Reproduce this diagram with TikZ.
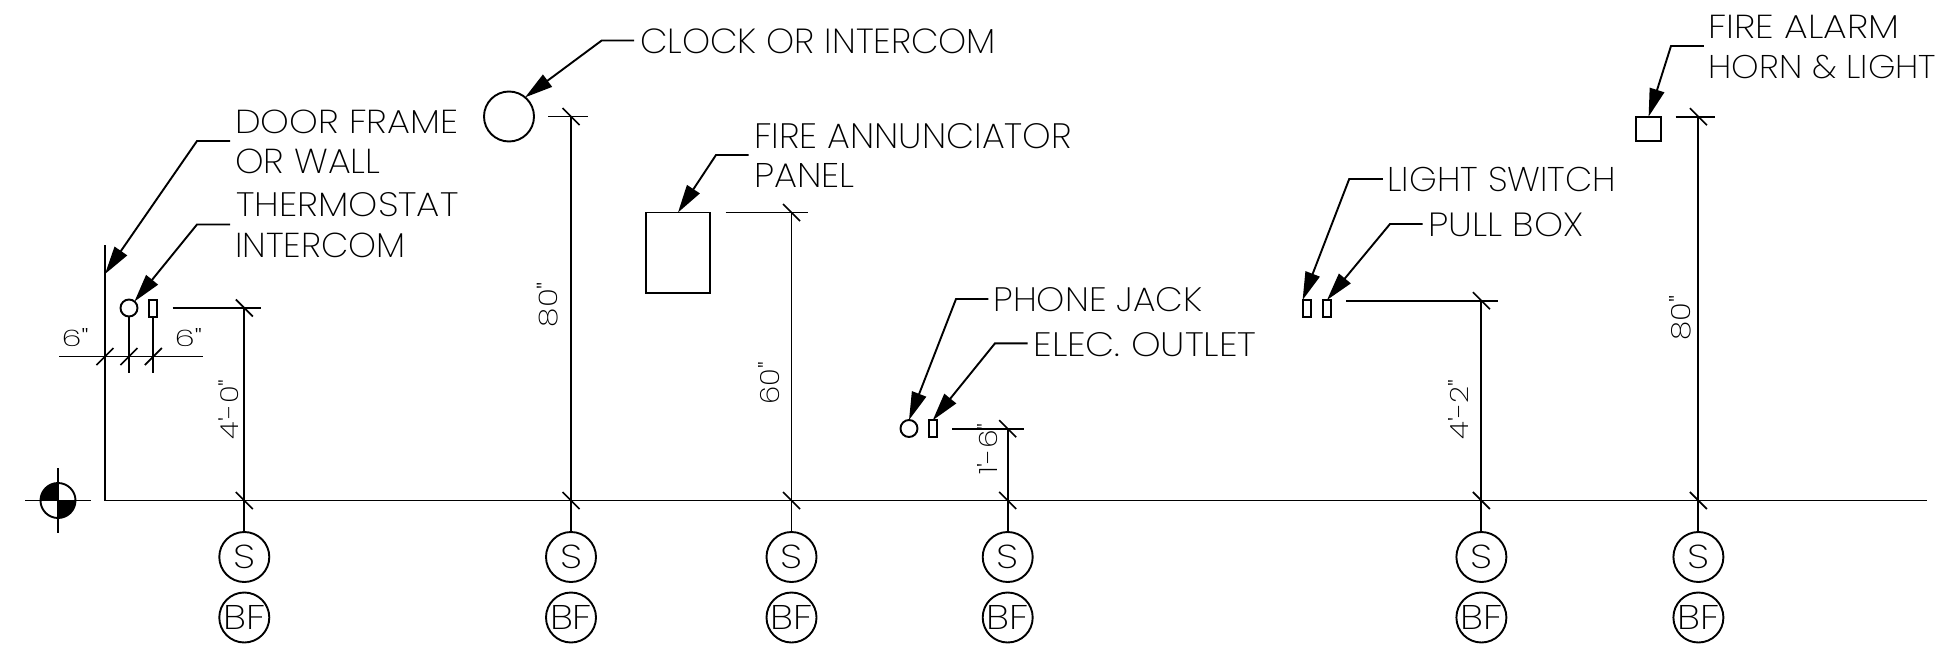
\documentclass[tikz,border=0pt]{standalone}
\usepackage{fontspec}
\usepackage{graphicx}
\newfontfamily\cadfont{Poppins ExtraLight}
\usetikzlibrary{arrows.meta,calc}
\tikzset{
  wire/.style={line width=1.9pt},
  leader/.style={wire,-{Triangle[length=28pt,width=15pt]}},
  tickline/.style={line width=1.7pt},
  caption/.style={inner sep=0pt,outer sep=0pt,anchor=base west,xshift=-1.5pt},
  dimtext/.style={inner sep=0pt,outer sep=0pt,rotate=90,anchor=center},
  devicebox/.style={draw,wire,inner sep=0pt,outer sep=0pt,minimum width=#1},
  devicebox/.default=8pt,
  ring/.style={draw,wire,circle,inner sep=0pt,outer sep=0pt,minimum size=#1},
  bubble/.style={ring=50pt}
}
\newcommand{\lbl}[6]{\pgfmathsetlengthmacro\lblw{#4+3}\node[caption] (#1) at (#2,#3) {\resizebox{\lblw}{#5pt}{\cadfont #6}};}
\newcommand{\dimlbl}[6]{\node[dimtext] (#1) at (#2,#3) {\resizebox{#4pt}{#5pt}{\cadfont #6}};}
% name x top extleft extright : dimension column with S and BF bubbles
\newcommand{\dimcol}[5]{%
  \coordinate (top#1) at (#2,#3);
  \coordinate (gnd#1) at (#2,500.5);
  \coordinate (extL#1) at (#4,#3);
  \coordinate (extR#1) at (#5,#3);
  \node[bubble] (S#1) at (#2,557) {\resizebox{22pt}{23.5pt}{\cadfont S}};
  \node[bubble] (BF#1) at (#2,617.5) {\resizebox{42pt}{24pt}{\cadfont BF}};
  \draw[wire] (extL#1) -- (extR#1);
  \draw[wire] (top#1) -- (S#1.north);
  \draw[tickline] ([shift={(-8.5,-8.5)}]top#1) -- ([shift={(8.5,8.5)}]top#1);
  \draw[tickline] ([shift={(-8.5,-8.5)}]gnd#1) -- ([shift={(8.5,8.5)}]gnd#1);
}
\begin{document}
\begin{tikzpicture}[x=1pt,y=-1pt]
\useasboundingbox[fill=white] (0,0) rectangle (1938,669);

% ground and wall
\coordinate (wallTop) at (105,245);
\coordinate (corner) at (105,500.5);
\coordinate (gndEnd) at (1927,500.5);
\draw[wire] (wallTop) -- (corner) -- (gndEnd);

% datum symbol
\coordinate (dat) at (58,500.5);
\fill (dat) -- ++(-17.5,0) arc[start angle=180,end angle=270,radius=17.5] -- cycle;
\fill (dat) -- ++(17.5,0) arc[start angle=0,end angle=90,radius=17.5] -- cycle;
\node[ring=35pt] (datum) at (dat) {};
\coordinate (datW) at (25,500.5);
\coordinate (datE) at (91,500.5);
\coordinate (datN) at (58,468);
\coordinate (datS) at (58,533);
\draw[wire] (datW) -- (datE);
\draw[wire] (datN) -- (datS);

% dimension columns
\dimcol{a}{244.3}{308}{172.7}{260.7}
\dimcol{b}{571}{116.5}{548}{588}
\dimcol{c}{791.5}{212.5}{725.7}{808.4}
\dimcol{d}{1007.7}{428.7}{952}{1024}
\dimcol{e}{1481.4}{300.7}{1346.3}{1498}
\dimcol{f}{1698.4}{116.7}{1675.7}{1715}

% devices
\node[ring=17pt] (thermo) at (129,308) {};
\node[devicebox,minimum height=16.6pt] (tbox) at (153.3,308.3) {};
\node[ring=50pt] (clock) at (509,116.5) {};
\node[devicebox=64.7pt,minimum height=80.2pt] (panel) at (678,252.6) {};
\node[ring=17pt] (phone) at (909,428.5) {};
\node[devicebox,minimum height=16.4pt] (outlet) at (932.7,428.5) {};
\node[devicebox,minimum height=17pt] (light) at (1306.6,308.5) {};
\node[devicebox,minimum height=17pt] (pull) at (1327,308.5) {};
\node[devicebox=24.7pt,minimum height=24.3pt] (horn) at (1648.6,128.8) {};

% six-inch dimension
\coordinate (sixL) at (59,356.5);
\coordinate (sixR) at (202.7,356.5);
\coordinate (sixW) at (105,356.5);
\coordinate (sixT) at (129,356.5);
\coordinate (sixB) at (153.3,356.5);
\coordinate (sixTe) at (129,373);
\coordinate (sixBe) at (153.3,373);
\draw[wire] (sixL) -- (sixR);
\draw[wire] (thermo.south) -- (sixTe);
\draw[wire] (tbox.south) -- (sixBe);
\draw[tickline] ([shift={(-8.5,8.5)}]sixW) -- ([shift={(8.5,-8.5)}]sixW);
\draw[tickline] ([shift={(-8.5,8.5)}]sixT) -- ([shift={(8.5,-8.5)}]sixT);
\draw[tickline] ([shift={(-8.5,8.5)}]sixB) -- ([shift={(8.5,-8.5)}]sixB);

% captions
\lbl{tDoor}{236.7}{133.4}{220}{23.5}{DOOR FRAME}
\lbl{tWall}{236.7}{173.7}{142.3}{24.5}{OR WALL}
\lbl{tTherm}{238}{216}{219}{24}{THERMOSTAT}
\lbl{tInter}{236.7}{257}{167.3}{24.5}{INTERCOM}
\lbl{tClock}{641.5}{53.3}{353.2}{24.7}{CLOCK OR INTERCOM}
\lbl{tFire}{755.5}{148}{315}{25}{FIRE ANNUNCIATOR}
\lbl{tPanel}{755.5}{187}{97.5}{24}{PANEL}
\lbl{tPhone}{995}{311.3}{206}{24}{PHONE JACK}
\lbl{tElec}{1035}{356}{220}{24}{ELEC. OUTLET}
\lbl{tLight}{1389}{191}{225.5}{24.3}{LIGHT SWITCH}
\lbl{tPull}{1429.8}{236}{152.2}{23.7}{PULL BOX}
\lbl{tAlarm}{1710}{38.3}{188}{23.3}{FIRE ALARM}
\lbl{tHorn}{1710}{78.3}{224.6}{23.3}{HORN \& LIGHT}
\lbl{tSixA}{63}{346}{24.3}{18}{6"}
\lbl{tSixB}{176}{346}{24.7}{18}{6"}
\dimlbl{dA}{229}{409.4}{60}{19.7}{4'-0"}
\dimlbl{dB}{547.5}{304.5}{45.4}{20.3}{80"}
\dimlbl{dC}{768.7}{383}{42.6}{21}{60"}
\dimlbl{dD}{987.3}{449}{51.7}{20}{1'-6"}
\dimlbl{dE}{1458}{409.4}{60}{20}{4'-2"}
\dimlbl{dF}{1680.5}{318}{45}{21}{80"}

% leader elbows and tips
\coordinate (doorS) at (230,141);     \coordinate (doorK) at (197,141);     \coordinate (doorT) at (105,274);
\coordinate (thS) at (230,224.5);     \coordinate (thK) at (197,224.5);
\coordinate (clS) at (634,40.5);      \coordinate (clK) at (601.7,40.5);
\coordinate (paS) at (748.7,155);     \coordinate (paK) at (716,155);
\coordinate (phS) at (988.3,299);     \coordinate (phK) at (956,299);
\coordinate (elS) at (1027.7,343.3);  \coordinate (elK) at (995,343.3);
\coordinate (liS) at (1382.8,179);    \coordinate (liK) at (1349.2,179);
\coordinate (puS) at (1422.7,224);    \coordinate (puK) at (1390,224);
\coordinate (hoS) at (1703.8,46);     \coordinate (hoK) at (1671,46);
\draw[leader] (doorS) -- (doorK) -- (doorT);
\draw[leader] (thS) -- (thK) -- (thermo.50);
\draw[leader] (clS) -- (clK) -- (clock.50);
\draw[leader] (paS) -- (paK) -- (panel.north);
\draw[leader] (phS) -- (phK) -- (phone.north);
\draw[leader] (elS) -- (elK) -- (outlet.north);
\draw[leader] (liS) -- (liK) -- (light.north west);
\draw[leader] (puS) -- (puK) -- (pull.north);
\draw[leader] (hoS) -- (hoK) -- (horn.north);
\end{tikzpicture}
\end{document}
